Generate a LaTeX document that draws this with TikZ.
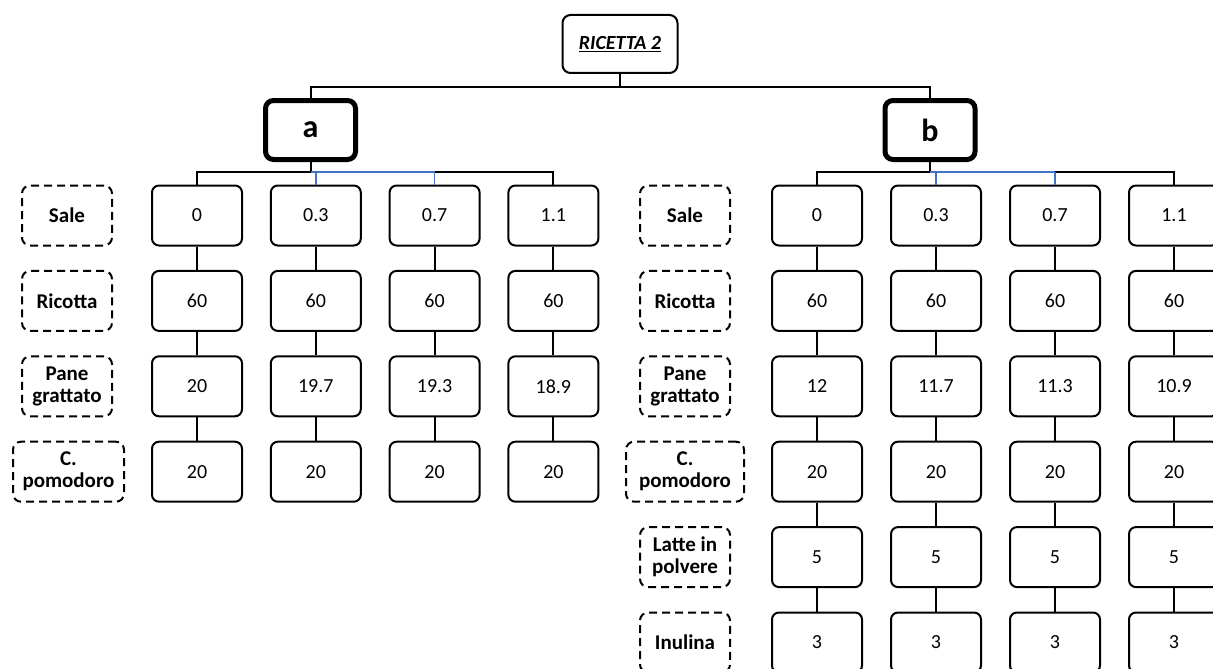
\documentclass[tikz,border=0pt]{standalone}
\usepackage{fontspec}
\setmainfont{Carlito}
\definecolor{blueline}{RGB}{68,114,196}
\tikzset{
  val/.style={draw, line width=2pt, rounded corners=7pt, minimum width=90pt, minimum height=60pt, inner sep=0pt, font=\fontsize{20}{22}\selectfont},
  lab/.style={draw, dash pattern=on 8pt off 5pt, line width=2pt, rounded corners=8pt, minimum width=90pt, minimum height=60pt, inner sep=0pt, align=center, font=\bfseries\fontsize{21}{22}\selectfont},
  grp/.style={draw, line width=5pt, rounded corners=8pt, minimum width=90pt, minimum height=59pt, inner sep=0pt, font=\bfseries\fontsize{32}{32}\selectfont},
  ttl/.style={draw, line width=2pt, rounded corners=8pt, minimum width=115pt, minimum height=58pt, inner sep=0pt, font=\bfseries\itshape\fontsize{20}{22}\selectfont},
  conn/.style={line width=2pt},
  blueconn/.style={line width=1.6pt, draw=blueline}
}
\begin{document}
\begin{tikzpicture}[x=1pt,y=-1pt]
\useasboundingbox (0,0) rectangle (1213,669);
% title and groups
\node[ttl] (title) at (620,44) {\underline{RICETTA 2}};
\node[grp] (a) at (310.5,130) {a};
\node[grp] (b) at (930,130) {b};
\coordinate (top) at (620,87);
\coordinate (ha) at (310.5,172);
\coordinate (hb) at (930,172);
\draw[conn] (title.south) -- (top);
\draw[conn] (a.north) -- (a.north |- top) -- (b.north |- top) -- (b.north);
% side a values
\foreach \r/\vals in {1/{0,0.3,0.7,1.1},2/{60,60,60,60},3/{20,19.7,19.3,18.9},4/{20,20,20,20}}{
  \foreach \v [count=\c] in \vals {
    \node[val] (A\r\c) at ({197+118.8*(\c-1)},{215.5+85.4*(\r-1)}) {\v};
  }
}
% side b values
\foreach \r/\vals in {1/{0,0.3,0.7,1.1},2/{60,60,60,60},3/{12,11.7,11.3,10.9},4/{20,20,20,20},5/{5,5,5,5},6/{3,3,3,3}}{
  \foreach \v [count=\c] in \vals {
    \node[val] (B\r\c) at ({817+119*(\c-1)},{215.5+85.4*(\r-1)}) {\v};
  }
}
% labels side a
\node[lab] (LA1) at (67,215.5) {Sale};
\node[lab] (LA2) at (67,300.9) {Ricotta};
\node[lab] (LA3) at (67,386.3) {Pane\\grattato};
\node[lab, minimum width=111pt] (LA4) at (68.5,471.7) {C.\\pomodoro};
% labels side b
\node[lab] (LB1) at (685,215.5) {Sale};
\node[lab] (LB2) at (685,300.9) {Ricotta};
\node[lab] (LB3) at (685,386.3) {Pane\\grattato};
\node[lab, minimum width=118pt] (LB4) at (685,471.7) {C.\\pomodoro};
\node[lab] (LB5) at (685,557.1) {Latte in\\polvere};
\node[lab] (LB6) at (685,642.5) {Inulina};
% group connectors side a
\draw[conn] (a.south) -- (ha);
\draw[conn] (A11.north) -- (A11.north |- ha) -- (A14.north |- ha) -- (A14.north);
\draw[blueconn] (a.south |- ha) -- (A13.north |- ha);
\draw[blueconn] (A12.north |- ha) -- (A12.north);
\draw[blueconn] (A13.north |- ha) -- (A13.north);
% group connectors side b
\draw[conn] (b.south) -- (hb);
\draw[conn] (B11.north) -- (B11.north |- hb) -- (B14.north |- hb) -- (B14.north);
\draw[blueconn] (b.south |- hb) -- (B13.north |- hb);
\draw[blueconn] (B12.north |- hb) -- (B12.north);
\draw[blueconn] (B13.north |- hb) -- (B13.north);
% vertical chains
\foreach \r [evaluate=\r as \s using int(\r+1)] in {1,2,3}
  \foreach \c in {1,...,4}
    \draw[conn] (A\r\c.south) -- (A\s\c.north);
\foreach \r [evaluate=\r as \s using int(\r+1)] in {1,2,3,4,5}
  \foreach \c in {1,...,4}
    \draw[conn] (B\r\c.south) -- (B\s\c.north);
\end{tikzpicture}
\end{document}
